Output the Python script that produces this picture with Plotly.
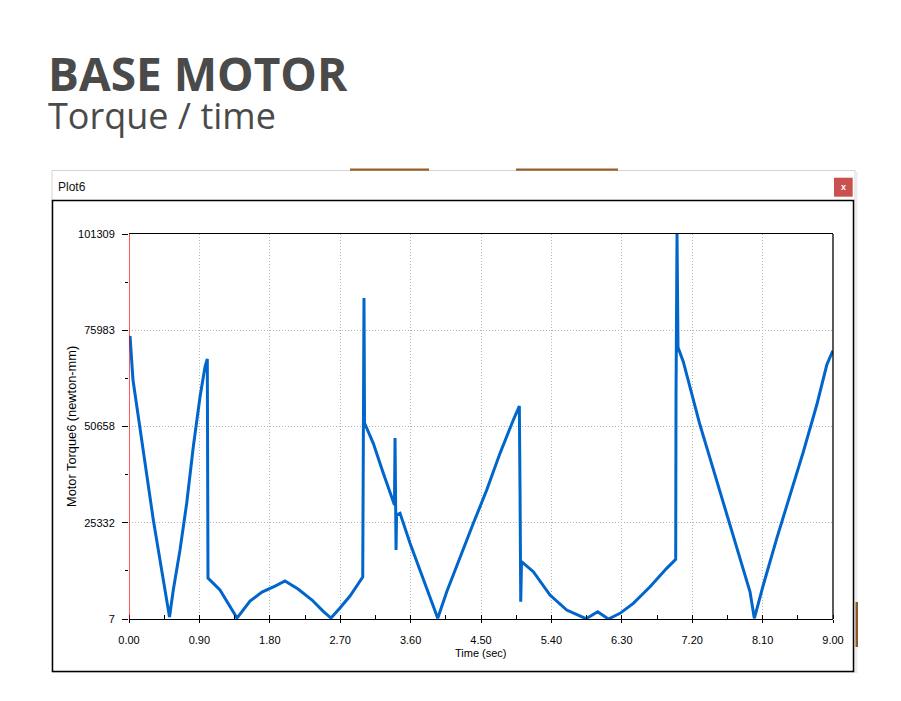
import plotly.graph_objects as go

# ---- data ----
time_sec = [0.000, 0.013, 0.051, 0.141, 0.226, 0.311, 0.396, 0.482, 0.518, 0.566,
            0.652, 0.738, 0.822, 0.908, 0.972, 1.001, 1.004, 1.010, 1.163, 1.291,
            1.381, 1.547, 1.700, 1.867, 1.994, 2.161, 2.340, 2.480, 2.582, 2.697,
            2.825, 2.988, 2.992, 3.004, 3.011, 3.123, 3.251, 3.379, 3.394, 3.401,
            3.414, 3.420, 3.465, 3.593, 3.721, 3.848, 3.947, 4.062, 4.232, 4.402,
            4.573, 4.743, 4.913, 4.990, 4.999, 5.008, 5.018, 5.169, 5.382, 5.596,
            5.843, 5.992, 6.128, 6.277, 6.447, 6.661, 6.874, 6.989, 6.993, 7.006,
            7.019, 7.023, 7.086, 7.172, 7.300, 7.428, 7.555, 7.683, 7.811, 7.939,
            7.994, 8.109, 8.281, 8.451, 8.621, 8.792, 8.920, 8.997]
torque_nmm = [73410, 74460, 62890, 49730, 37440, 26050, 15520, 4210, 530, 7630,
              18150, 30520, 45340, 58490, 66380, 68410, 14730, 10790, 7630, 3160,
              260, 4740, 7100, 8680, 10000, 7890, 5000, 2100, 260, 2890,
              6050, 11050, 47630, 84460, 51570, 46230, 38340, 31310, 30000, 47630,
              18160, 27360, 27810, 19920, 12890, 5870, 180, 7180, 16390, 25180,
              33940, 43600, 52360, 56040, 33940, 4550, 15080, 12450, 6310, 2370,
              80, 1920, 7, 1500, 4130, 8500, 13340, 15710, 58410, 101300,
              70250, 71230, 67700, 60700, 51040, 42280, 33490, 24730, 15970, 7180,
              180, 8950, 21230, 32630, 44020, 56310, 66830, 70590]

y_tickvals = [7, 25332, 50658, 75983, 101309]
y_ticktext = ["7", "25332", "50658", "75983", "101309"]
x_tickvals = [0.00, 0.90, 1.80, 2.70, 3.60, 4.50, 5.40, 6.30, 7.20, 8.10, 9.00]
x_ticktext = ["0.00", "0.90", "1.80", "2.70", "3.60", "4.50", "5.40", "6.30", "7.20", "8.10", "9.00"]

title_main = "BASE MOTOR"
title_sub = "Torque / time"
window_title = "Plot6"
x_title = "Time (sec)"
y_title = "Motor Torque6 (newton-mm)"

# ---- layout geometry (pixels) ----
W, H = 901, 701
PL, PR, PT, PB = 129, 833, 234, 619


def px(x):
    return (x - PL) / (PR - PL)


def py(y):
    return (PB - y) / (PB - PT)


y_minor = [(a + b) / 2 for a, b in zip(y_tickvals[:-1], y_tickvals[1:])]

narrow = "Liberation Sans Narrow, Arial Narrow, Liberation Sans, Arial, sans-serif"
arial = "Liberation Sans, Arial, sans-serif"

fig = go.Figure()
fig.add_trace(go.Scatter(x=time_sec, y=torque_nmm, mode="lines",
                         line=dict(color="#0066cc", width=3), hoverinfo="x+y",
                         showlegend=False))

shapes = []
# outer window frame
shapes.append(dict(type="rect", xref="paper", yref="paper", layer="below",
                   x0=px(52), x1=px(855), y0=py(672), y1=py(170.5),
                   line=dict(color="#d4d4d4", width=1), fillcolor="white"))
# right shadow
shapes.append(dict(type="rect", xref="paper", yref="paper", layer="below",
                   x0=px(855), x1=px(857.5), y0=py(673), y1=py(172),
                   line=dict(width=0), fillcolor="#ececec"))
shapes.append(dict(type="rect", xref="paper", yref="paper", layer="below",
                   x0=px(855.5), x1=px(858), y0=py(647), y1=py(602),
                   line=dict(width=0), fillcolor="#8a5a2c"))
# brown strips at top
for a, b in [(350, 429), (516, 618)]:
    shapes.append(dict(type="rect", xref="paper", yref="paper", layer="below",
                       x0=px(a), x1=px(b), y0=py(170.8), y1=py(168.6),
                       line=dict(width=0), fillcolor="#9a5f2a"))
# inner panel border
shapes.append(dict(type="rect", xref="paper", yref="paper", layer="below",
                   x0=px(52.5), x1=px(853.5), y0=py(671.5), y1=py(200.5),
                   line=dict(color="black", width=1.5), fillcolor="white"))
# close button
shapes.append(dict(type="rect", xref="paper", yref="paper", layer="below",
                   x0=px(834), x1=px(852.7), y0=py(196.7), y1=py(177.7),
                   line=dict(width=0), fillcolor="#c9524f"))
# plot frame: right black, left red
shapes.append(dict(type="line", xref="paper", yref="paper", layer="above",
                   x0=1, x1=1, y0=0, y1=1, line=dict(color="black", width=1.3)))
shapes.append(dict(type="line", xref="x", yref="paper", layer="above",
                   x0=0, x1=0, y0=0, y1=1, line=dict(color="#ff0000", width=1.3)))

heading = (f"<span style='font-size:46px'><b>{title_main}</b></span><br>"
           f"<span style='font-size:36px'>{title_sub}</span>")

annotations = [
    dict(text=heading, xref="paper", yref="paper", align="left",
         x=px(46), y=py(91), xanchor="left", yanchor="middle", showarrow=False,
         font=dict(family="Open Sans, sans-serif", size=29, color="#4a4a4a")),
    dict(text=window_title, xref="paper", yref="paper",
         x=px(56), y=py(186.5), xanchor="left", yanchor="middle", showarrow=False,
         font=dict(family=narrow, size=12, color="#111111")),
    dict(text="<b>x</b>", xref="paper", yref="paper",
         x=px(843.4), y=py(186.5), xanchor="center", yanchor="middle", showarrow=False,
         font=dict(family=arial, size=9, color="white")),
    dict(text=x_title, xref="paper", yref="paper",
         x=px(481), y=py(652.5), xanchor="center", yanchor="middle", showarrow=False,
         font=dict(family=narrow, size=11, color="black")),
    dict(text=y_title, xref="paper", yref="paper", textangle=-90,
         x=px(71), y=py(427), xanchor="center", yanchor="middle", showarrow=False,
         font=dict(family=arial, size=12.8, color="black")),
]

fig.update_layout(
    width=W, height=H,
    margin=dict(l=PL, r=W - PR, t=PT, b=H - PB, pad=0),
    paper_bgcolor="white", plot_bgcolor="white",
    shapes=shapes, annotations=annotations, showlegend=False,
    xaxis=dict(range=[0, 9], tickvals=x_tickvals, ticktext=x_ticktext,
               showline=True, linecolor="black", linewidth=1.3, mirror=True,
               ticks="outside", ticklen=3, tickcolor="black", tickwidth=1,
               ticklabelstandoff=8,
               minor=dict(dtick=0.45, tick0=0, ticks="inside", ticklen=4,
                          tickcolor="black", showgrid=False),
               showgrid=True, gridcolor="#b4b4b4", griddash="1px,2px", gridwidth=1,
               zeroline=False, fixedrange=True,
               tickfont=dict(family=narrow, size=11, color="black")),
    yaxis=dict(range=[7, 101309], tickvals=y_tickvals, ticktext=y_ticktext,
               showline=False,
               ticks="outside", ticklen=6, tickcolor="black", tickwidth=1,
               ticklabelstandoff=5,
               minor=dict(tickvals=y_minor, ticks="outside", ticklen=3,
                          tickcolor="black", showgrid=False),
               showgrid=True, gridcolor="#b4b4b4", griddash="1px,2px", gridwidth=1,
               zeroline=False, fixedrange=True,
               tickfont=dict(family=arial, size=11, color="black")),
)

fig.write_html("out.html", config=dict(displayModeBar=False))
